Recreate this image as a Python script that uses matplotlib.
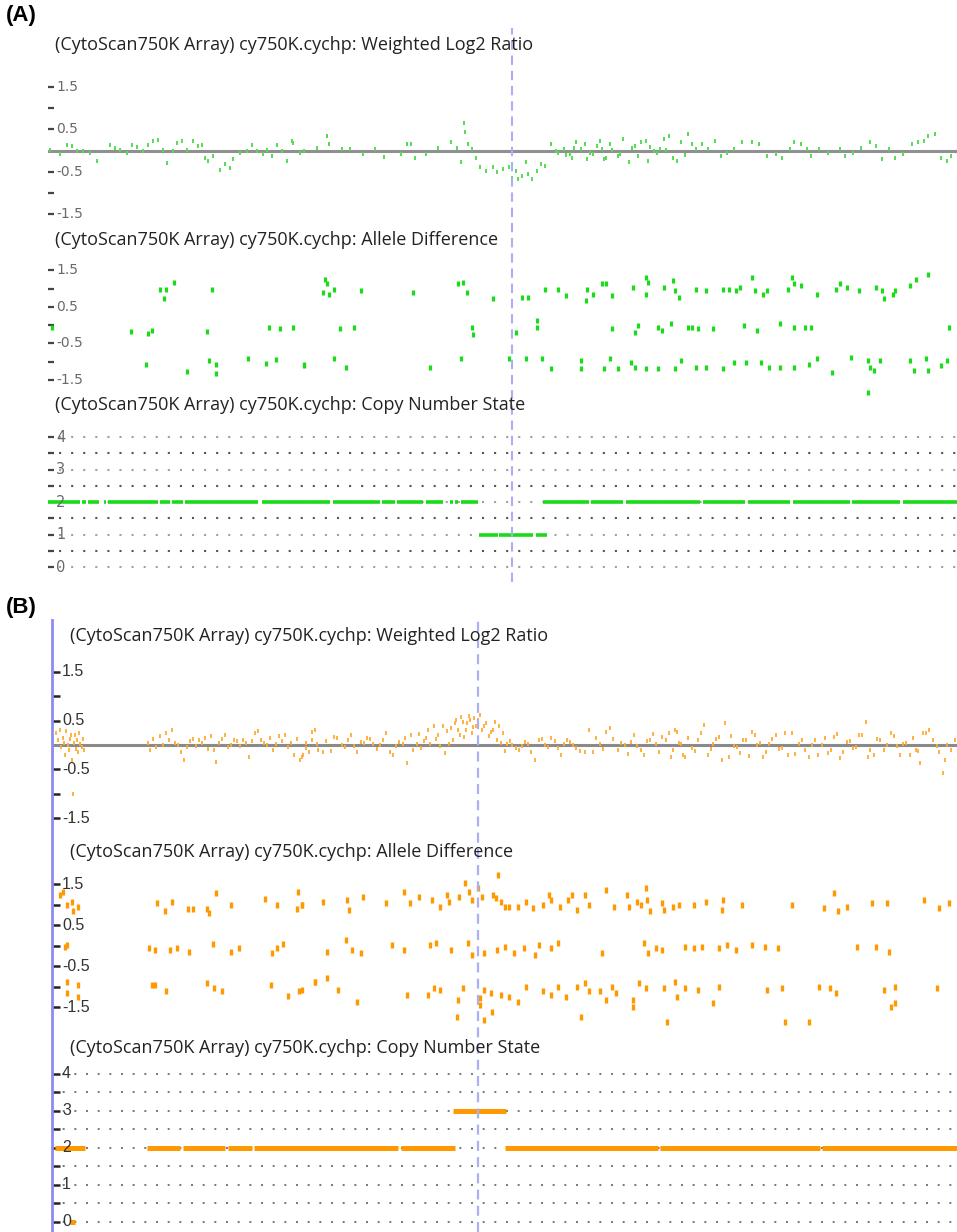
import matplotlib
matplotlib.use("Agg")
import matplotlib.pyplot as plt
from matplotlib import font_manager

# ---------------- DATA ----------------
title_prefix = "(CytoScan750K Array) cy750K.cychp: "
track_names = ["Weighted Log2 Ratio", "Allele Difference", "Copy Number State"]

log2_ticks = [1.5, 1.0, 0.5, -0.5, -1.0, -1.5]
log2_labels = ["1.5", "", "0.5", "-0.5", "", "-1.5"]
allele_ticks = [1.5, 1.0, 0.5, 0.0, -0.5, -1.0, -1.5]
allele_labels = ["1.5", "", "0.5", "", "-0.5", "", "-1.5"]
cn_ticks = [4, 3.5, 3, 2.5, 2, 1.5, 1, 0.5, 0]
cn_labels = ["4", "", "3", "", "2", "", "1", "", "0"]

# breakpoint positions (genomic position, arbitrary units)
breakpoint_a = 512
breakpoint_b = 478

# Panel A: weighted log2 ratio
a_log2_x = [50, 60, 67, 72, 77, 83, 90, 97, 110, 115, 120, 127, 132, 137, 143, 148, 153, 158, 163, 167,
            173, 177, 182, 187, 193, 198, 202, 205, 208, 213, 220, 225, 230, 233, 240, 247, 252, 257, 263, 267,
            272, 277, 282, 287, 292, 293, 300,
            304, 317, 327, 329, 342, 350, 363, 375, 384, 401, 407, 411, 415, 426, 438, 451, 457, 461, 464, 465,
            468, 472, 476, 480, 486, 493, 497, 503, 509, 512, 516, 518, 522, 526, 528, 532, 537, 541, 545,
            551, 556, 558, 564, 566, 570, 572, 574, 576, 581, 585, 587, 590, 593, 597, 600, 602, 604, 606, 610,
            612, 618, 620, 623, 629, 632, 635, 638, 641, 646, 648, 650, 654, 657, 660, 664, 666, 669, 673, 677,
            681, 685, 688, 692, 696, 702, 708, 715, 721, 727, 734, 742, 752, 759, 767, 776, 782, 790, 794, 801,
            807, 811, 819, 828, 840, 845, 853, 861, 870, 876, 882, 889, 895, 903, 912, 918, 924, 928, 935, 941,
            947, 951]
a_log2_y = [0.02, -0.09, 0.14, 0.10, 0.0, -0.02, -0.05, -0.25, 0.14, 0.06, 0.02, -0.05, 0.14, 0.08, -0.02, 0.14, 0.22, 0.26, 0.02, -0.29,
            -0.02, 0.18, 0.22, 0.02, 0.22, 0.10, 0.14, -0.17, -0.25, -0.13, -0.45, -0.33, -0.41, -0.21, -0.05, -0.02, 0.14, -0.02, -0.09, 0.02,
            -0.13, 0.14, -0.02, -0.25, 0.22, 0.18, -0.05,
            0.0, 0.07, 0.35, 0.15, 0.03, 0.03, -0.09, 0.03, -0.15, -0.09, 0.15, 0.15, -0.17, -0.09, 0.07, 0.19, 0.07, -0.28, 0.66, 0.43,
            0.15, 0.03, -0.17, -0.40, -0.48, -0.40, -0.52, -0.44, -0.40, -0.64, -0.48, -0.68, -0.60, -0.28, -0.56, -0.68, -0.48, -0.32, -0.36,
            0.15, 0.0, -0.05, 0.03, -0.10, -0.09, -0.17, 0.05, 0.19, 0.03, 0.15, -0.20, -0.06, -0.09, 0.10, 0.23, 0.03, -0.20, -0.17, 0.15,
            0.02, -0.13, -0.08, 0.27, -0.28, 0.05, 0.11, -0.12, 0.19, 0.23, -0.24, 0.08, 0.0, -0.05, 0.03, 0.27, 0.02, 0.35, -0.17, -0.24,
            0.19, -0.10, 0.39, 0.15, 0.03, 0.15, 0.03, 0.23, -0.13, -0.05, 0.03, 0.19, 0.19, 0.15, -0.13, -0.09, -0.17, 0.03, 0.19, 0.15,
            0.03, -0.13, 0.03, -0.05, 0.03, -0.13, -0.05, 0.07, 0.19, 0.11, -0.20, 0.03, -0.17, -0.09, 0.15, 0.19, 0.23, 0.35, 0.39, -0.17,
            -0.24, -0.13]

# Panel A: allele difference
a_allele_x = [52, 131, 148, 152, 160, 166, 164, 174, 212, 207, 146, 187, 209, 216, 216, 248, 266, 276, 304, 269,
              280, 293,
              325, 327, 323, 329, 334, 361, 413, 458, 463, 467, 493, 522, 528, 545, 558, 566, 587, 586,
              593, 602, 606, 612, 633, 646, 648, 646, 664, 673, 675, 679, 696, 706, 723, 729, 736, 740, 752, 755,
              763, 767, 788, 792, 794, 801, 817, 836, 840, 847, 859, 876, 882, 884, 893, 895, 910, 916, 928,
              340, 354, 472, 473, 516, 537, 537, 612, 635, 638, 658, 662, 671, 688, 692, 698, 713, 744, 757, 780,
              794, 805, 811, 949,
              304, 334, 346, 430, 461, 509, 526, 542, 551, 581, 581, 604, 610, 618, 631, 635, 646, 658, 675, 681,
              696, 706, 723, 734, 746, 761, 769, 780, 794, 809, 817, 832, 851, 868, 870, 874, 880, 868, 910, 914,
              926, 928, 941, 947]
a_allele_y = [-0.05, -0.16, -0.21, -0.14, 1.0, 1.0, 0.73, 1.18, 1.0, -0.16, -1.06, -1.25, -0.95, -1.06, -1.30, -0.91, -1.03, -0.93, -1.06, -0.05,
              -0.09, -0.05,
              1.27, 1.14, 0.91, 0.86, 1.0, 0.95, 0.91, 1.14, 1.18, 0.91, 0.73, 0.77, 0.77, 1.0, 1.0, 0.82, 1.0, 0.68,
              0.86, 1.14, 1.14, 0.82, 1.04, 1.32, 1.18, 0.86, 1.04, 1.23, 0.95, 0.77, 1.0, 0.95, 1.0, 1.0, 0.95, 1.04, 1.32, 0.95,
              0.86, 0.95, 1.0, 1.32, 1.14, 1.09, 0.86, 1.0, 1.14, 1.04, 0.95, 1.04, 0.95, 0.73, 0.86, 0.95, 1.09, 1.27, 1.41,
              -0.09, -0.05, -0.05, -0.23, -0.18, 0.14, -0.05, -0.09, -0.18, 0.0, -0.05, -0.14, 0.05, -0.05, -0.05, -0.09, -0.09, 0.0, -0.14, 0.05,
              -0.05, -0.05, -0.05, -0.05,
              -1.09, -0.91, -1.14, -1.14, -0.91, -0.91, -0.91, -0.91, -1.18, -0.95, -1.18, -1.18, -0.91, -1.18, -1.0, -1.14, -1.18, -1.18, -1.18, -0.95,
              -1.14, -1.14, -1.18, -1.0, -1.0, -1.0, -1.14, -1.14, -1.14, -1.05, -0.91, -1.27, -0.86, -0.95, -1.14, -1.23, -0.95, -1.82, -0.95, -1.23,
              -0.91, -1.23, -1.09, -0.95]

# Panel A: copy number segments
a_seg_start = [48, 82, 88, 104, 108, 160, 172, 185, 262, 333, 382, 397, 426, 450, 455, 461,
               479, 499, 536,
               543, 591, 626, 703, 748, 793, 852, 903]
a_seg_end = [80, 86, 99, 106, 158, 170, 183, 258, 330, 380, 395, 423, 443, 453, 458, 478,
             498, 533, 547,
             589, 623, 700, 745, 790, 850, 900, 957]
a_seg_state = [2, 2, 2, 2, 2, 2, 2, 2, 2, 2, 2, 2, 2, 2, 2, 2,
               1, 1, 1,
               2, 2, 2, 2, 2, 2, 2, 2]

# Panel B: weighted log2 ratio
b_log2_x = [56, 58, 60, 61, 63, 64, 65, 66, 68, 69, 70, 71, 72, 73, 74, 75, 76, 77, 78, 79,
            80, 82, 83, 84, 72,
            148, 150, 153, 156, 160, 163, 166, 169, 172, 175, 178, 181, 184, 187, 190, 193, 196, 199, 202, 205,
            208, 211, 214, 216, 219, 222, 225, 228, 231, 234, 237, 240, 243, 246, 249, 252, 255, 258, 261, 264,
            267, 270, 273, 276, 279, 282, 285, 288, 291, 294, 297, 300, 303, 306, 309, 312, 315, 318,
            302, 306, 312, 317, 323, 334, 342, 348, 354, 361, 367, 373, 380, 386, 390, 396, 403, 407, 411, 417,
            421, 426, 430, 434, 438, 440, 445, 449, 453, 456, 458, 461, 464, 467, 470, 472, 474, 476, 480, 482,
            486, 491, 495, 499, 503, 507, 512, 516, 522, 528, 535, 539, 545, 551, 558, 564, 570, 576, 585, 589,
            593, 600, 606, 610, 618, 625, 631, 637, 644, 650, 656, 662, 669, 673, 677, 681, 685, 692, 698, 704,
            708, 713, 719, 725, 729, 734, 740, 746, 752, 757, 763, 769, 776, 782, 788, 792, 799, 805, 809, 815,
            822, 828, 834, 840, 847, 853, 859, 866, 870, 874, 880, 887, 891, 897, 903, 910, 916, 920, 926, 933,
            937, 943, 947, 951,
            326, 331, 337, 345, 351, 357, 364, 370, 377, 383, 393, 399, 405, 413, 419, 424, 428, 436, 443, 447,
            451, 455, 460, 463, 466, 469, 473, 478, 484, 489, 493, 497, 501, 505, 510, 519, 525, 531, 542, 548,
            555, 561, 567, 573, 580, 596, 603, 613, 621, 628, 634, 641, 647, 653, 659, 666, 671, 675, 679, 683,
            688, 695, 701, 711, 716, 722, 731, 737, 743, 749, 755, 760, 766, 772, 779, 785, 795, 802, 812, 818,
            825, 831, 837, 843, 850, 856, 862, 868, 877, 884, 894, 900, 906, 913, 918, 923, 929, 939, 945, 955]
b_log2_y = [0.25, 0.10, 0.30, -0.05, 0.15, 0.05, -0.20, 0.28, 0.0, -0.10, 0.12, 0.20, -0.30, -1.0, 0.05, 0.20, -0.08, 0.10, -0.15, 0.25,
            0.02, -0.05, 0.12, -0.10, -1.52,
            0.05, -0.10, 0.12, -0.05, 0.18, 0.0, 0.25, 0.10, 0.30, 0.05, 0.0, -0.15, -0.30, -0.05, 0.08, 0.12, -0.02, 0.10, 0.05, 0.15,
            -0.08, 0.18, -0.10, -0.35, 0.05, 0.12, 0.20, -0.05, 0.0, 0.10, 0.08, -0.02, 0.10, 0.05, -0.25, 0.08, 0.25, 0.28, 0.10, 0.05,
            0.0, 0.15, -0.10, 0.02, 0.18, 0.08, 0.20, -0.05, 0.05, -0.20, 0.12, -0.30, -0.20, 0.05, -0.15, 0.10, 0.30, -0.10,
            -0.24, -0.07, 0.27, 0.03, -0.14, 0.17, 0.0, 0.10, -0.03, 0.07, 0.14, 0.03, 0.0, 0.24, -0.14, -0.03, 0.03, -0.38, 0.21, 0.03,
            -0.07, 0.14, 0.03, 0.38, 0.21, -0.03, -0.17, 0.03, 0.10, 0.51, 0.31, 0.58, 0.17, 0.45, 0.51, 0.24, 0.55, 0.38, 0.62, 0.31,
            0.45, 0.27, 0.48, 0.38, 0.24, 0.03, 0.0, -0.07, -0.03, 0.03, -0.31, 0.10, 0.0, 0.14, -0.07, 0.03, 0.07, -0.07, -0.14, 0.31,
            -0.14, 0.03, 0.27, 0.34, -0.10, 0.0, 0.07, -0.03, -0.21, 0.10, 0.03, 0.17, 0.24, -0.10, 0.27, 0.03, -0.24, -0.07, 0.10, 0.41,
            -0.21, 0.03, 0.17, 0.45, -0.24, -0.03, -0.17, 0.10, 0.27, 0.0, -0.24, 0.03, 0.21, -0.07, -0.21, 0.24, 0.03, -0.10, -0.24, 0.10,
            0.0, -0.17, 0.17, -0.27, 0.07, -0.07, 0.21, 0.48, -0.10, -0.21, 0.10, 0.0, 0.24, -0.03, 0.03, -0.21, -0.10, -0.38, 0.24, 0.10,
            -0.03, -0.58, 0.0, -0.10,
            0.08, -0.12, 0.15, -0.05, 0.20, -0.15, 0.05, 0.12, -0.08, 0.10, -0.20, 0.06, 0.14, -0.10, 0.22, 0.08, 0.30, 0.12, 0.40, 0.28,
            0.35, 0.45, 0.20, 0.48, 0.30, 0.60, 0.36, 0.52, 0.40, 0.18, 0.30, 0.10, 0.05, -0.12, 0.08, -0.10, 0.06, -0.15, 0.12, -0.05,
            0.08, -0.20, 0.10, 0.0, -0.12, 0.15, -0.08, 0.12, 0.05, -0.18, 0.20, -0.10, 0.08, 0.22, -0.15, 0.10, -0.25, 0.30, 0.05, -0.20,
            0.15, -0.12, 0.25, -0.08, 0.12, -0.30, 0.18, -0.05, 0.10, -0.22, 0.20, 0.05, -0.15, 0.12, -0.08, 0.25, -0.18, 0.10, 0.0, -0.20,
            0.15, -0.10, 0.22, -0.15, 0.08, -0.05, 0.20, -0.25, 0.12, -0.10, 0.18, -0.20, 0.05, 0.15, -0.12, 0.25, 0.30, -0.15, -0.30, 0.10]

# Panel B: allele difference
b_allele_x = [60, 63, 67, 72, 73, 78, 157, 165, 172, 188, 193, 207, 209, 216, 231, 265, 277, 298, 297, 302,
              302, 323, 347, 349, 363, 386, 404, 410, 419, 432, 440, 447, 449, 459, 465, 469, 472, 478, 482, 493,
              496, 498, 501, 505, 509, 518, 526, 533, 543, 549, 551, 560, 568, 572, 577, 585, 589, 606, 614, 627,
              629, 637, 641, 646, 647, 650, 662, 664, 673, 679, 694, 706, 723, 722, 742, 792, 824, 834, 838, 847,
              872, 887, 924, 939, 949,
              65, 67, 149, 155, 170, 177, 189, 213, 231, 239, 272, 277, 283,
              327, 346, 352, 361, 392, 404, 430, 436, 451, 468, 472, 484, 497, 505, 514, 524, 535, 539, 551, 558,
              602, 644, 648, 656, 662, 685, 694, 702, 719, 727, 736, 752, 765, 778, 857, 876, 889,
              67, 78, 67, 78, 152, 155, 166, 207, 214, 222, 271, 288, 299, 315,
              302, 315, 327, 338, 357, 407, 428, 434, 440, 458, 463, 480, 484, 491, 501, 509, 518, 526, 543, 551,
              558, 566, 577, 585, 589, 600, 606, 612, 616, 633, 639, 646, 664, 675, 677, 685, 698, 719, 713, 767,
              782, 819, 830, 836, 884, 895, 891, 937,
              457, 480, 484, 492, 581, 633, 667, 785, 809, 895]
b_allele_y = [1.24, 1.32, 1.0, 1.08, 0.84, 0.96, 1.04, 0.84, 1.08, 0.90, 0.90, 0.90, 0.81, 1.29, 1.0, 1.14, 1.0, 1.32, 0.90, 1.0,
              1.0, 1.08, 1.12, 0.88, 1.20, 1.04, 1.32, 1.04, 1.20, 1.12, 0.96, 1.24, 1.08, 1.20, 1.53, 1.32, 1.12, 1.41, 1.20, 1.24,
              1.16, 1.73, 1.08, 0.96, 0.96, 0.96, 1.08, 0.92, 1.0, 1.24, 1.12, 0.96, 1.12, 1.24, 0.88, 1.24, 1.0, 1.37, 0.96, 1.24,
              0.96, 1.08, 1.0, 1.41, 1.12, 0.84, 1.04, 0.88, 0.96, 1.0, 1.0, 1.08, 1.12, 0.88, 1.0, 1.0, 0.92, 1.29, 0.84, 0.96,
              1.04, 1.04, 1.12, 0.92, 1.04,
              -0.02, 0.02, -0.06, -0.11, -0.10, -0.06, -0.14, 0.05, -0.14, -0.06, -0.18, -0.06, 0.05,
              -0.14, 0.15, -0.10, -0.18, 0.02, -0.10, 0.02, 0.07, -0.10, 0.07, -0.22, -0.18, -0.10, -0.02, -0.18, -0.06, -0.22, 0.02, -0.06, 0.07,
              -0.18, 0.07, -0.18, -0.06, -0.10, -0.02, -0.06, -0.02, -0.06, 0.02, -0.10, 0.02, -0.02, -0.06, -0.02, -0.02, -0.14,
              -0.87, -0.95, -1.15, -1.24, -0.95, -0.95, -1.09, -0.91, -1.03, -1.09, -0.95, -1.22, -1.09, -0.87,
              -1.07, -0.87, -0.79, -1.07, -1.36, -1.20, -1.20, -1.03, -1.07, -1.32, -1.03, -1.28, -1.07, -1.15, -1.20, -1.24, -1.36, -0.99, -1.11, -1.20,
              -0.99, -1.24, -0.99, -0.91, -1.11, -1.11, -1.32, -0.99, -1.15, -1.32, -0.91, -1.03, -1.03, -0.87, -1.24, -1.03, -1.07, -0.99, -1.40, -1.07,
              -1.03, -0.99, -1.03, -1.15, -1.07, -0.99, -1.48, -1.03,
              -1.72, -1.44, -1.80, -1.60, -1.72, -1.48, -1.85, -1.85, -1.85, -1.40]

# Panel B: copy number segments
b_seg_start = [55, 147, 183, 228, 254, 401, 453, 505, 660, 822, 70]
b_seg_end = [85, 180, 225, 252, 398, 455, 506, 658, 820, 957, 75]
b_seg_state = [2, 2, 2, 2, 2, 2, 3, 2, 2, 2, 0]

# ---------------- FIGURE ----------------
W, H = 957, 1232
fig = plt.figure(figsize=(W / 100, H / 100), dpi=100)
fig.patch.set_facecolor("white")

avail = {f.name for f in font_manager.fontManager.ttflist}
title_font = "Open Sans" if "Open Sans" in avail else "DejaVu Sans"


def ax_px(l, t, r, b):
    return fig.add_axes([l / W, 1 - b / H, (r - l) / W, (b - t) / H])


def base(ax, xlim, ylim, ticks, labels, tcol, lcol, lsize, tlen, twid, lab_off_px, lfont):
    ax.set_xlim(*xlim)
    ax.set_ylim(*ylim)
    for s in ax.spines.values():
        s.set_visible(False)
    ax.patch.set_alpha(0)
    ax.set_xticks([])
    ax.set_yticks(ticks)
    ax.set_yticklabels([])
    ax.tick_params(axis="y", direction="in", length=tlen, width=twid, color=tcol)
    wpx = ax.get_position().width * W
    for v, lab in zip(ticks, labels):
        if lab:
            ax.text(lab_off_px / wpx, v, lab, transform=ax.get_yaxis_transform(),
                    ha="left", va="center", fontsize=lsize, color=lcol, family=lfont, zorder=5)


def title(x, y, name):
    fig.text(x / W, 1 - y / H, title_prefix + name, fontsize=13, family=title_font,
             color="#222222", ha="left", va="center")


# ---------------- PANEL A ----------------
green_pt = "#55dd55"
green = "#18dc18"
fig.text(6 / W, 1 - 16 / H, "(A)", fontsize=16, fontweight="bold", family="Liberation Sans",
         ha="left", va="center")
xa = (48, 957)
title(55, 45, track_names[0])
ax = ax_px(48, 74.4, 957, 226.6)
base(ax, xa, (-1.8, 1.8), log2_ticks, log2_labels, "#444444", "#6a6a6a", 10, 4, 1.6, 8, "DejaVu Sans")
ax.axhline(0, color="#909090", lw=2.2, zorder=1)
ax.plot(a_log2_x, a_log2_y, ls="none", marker="|", ms=2.6, mew=1.4, color=green_pt, zorder=2)

title(55, 240, track_names[1])
ax = ax_px(48, 259.3, 957, 394.7)
base(ax, xa, (-1.9, 1.8), allele_ticks, allele_labels, "#444444", "#6a6a6a", 10, 4, 1.6, 8, "DejaVu Sans")
ax.plot(a_allele_x, a_allele_y, ls="none", marker="|", ms=3.6, mew=2.3, color=green, zorder=2)

title(55, 405, track_names[2])
ax = ax_px(48, 427.25, 957, 576.75)
base(ax, xa, (-0.3, 4.3), cn_ticks, cn_labels, "#444444", "#6a6a6a", 10.5, 4, 1.6, 8, "DejaVu Sans")
for lev in cn_ticks:
    ax.axhline(lev, color="#a0a0a0" if float(lev).is_integer() else "#555555", lw=1.5,
               linestyle=(0.5, (1, 4.8)), zorder=1)
ax.hlines(a_seg_state, a_seg_start, a_seg_end, colors=green, lw=2.6, zorder=3)

ov = ax_px(48, 28, 957, 582)
ov.set_xlim(*xa)
ov.set_ylim(0, 1)
ov.axis("off")
ov.axvline(breakpoint_a, color="#aab0f4", lw=1.5, linestyle=(0, (4.5, 2.8)))

# ---------------- PANEL B ----------------
orange_pt = "#ffab33"
orange = "#ff9900"
fig.text(6 / W, 1 - 607 / H, "(B)", fontsize=16, fontweight="bold", family="Liberation Sans",
         ha="left", va="center")
xb = (52, 957)
title(70, 636, track_names[0])
ax = ax_px(52, 657.3, 957, 827.8)
base(ax, xb, (-1.7, 1.8), log2_ticks, log2_labels, "#222222", "#333333", 11.5, 6, 1.8, 10, "Liberation Sans")
ax.axhline(0, color="#8a8a8a", lw=2.2, zorder=1)
ax.plot(b_log2_x, b_log2_y, ls="none", marker="|", ms=3.0, mew=1.3, color=orange_pt, zorder=2)

title(70, 852, track_names[1])
ax = ax_px(52, 868, 957, 1028)
base(ax, xb, (-2.0, 1.9), allele_ticks, allele_labels, "#222222", "#333333", 11.5, 6, 1.8, 10, "Liberation Sans")
ax.plot(b_allele_x, b_allele_y, ls="none", marker="|", ms=4.0, mew=2.4, color=orange, zorder=2)

title(70, 1048, track_names[2])
ax = ax_px(52, 1062.9, 957, 1231)
base(ax, xb, (-0.25, 4.3), cn_ticks, cn_labels, "#222222", "#333333", 11.5, 6, 1.8, 10, "Liberation Sans")
for lev in cn_ticks:
    ax.axhline(lev, color="#777777", lw=1.4, linestyle=(0.5, (1, 5.0)), zorder=1)
ax.hlines(b_seg_state, b_seg_start, b_seg_end, colors=orange, lw=3.6, zorder=3)

ov = ax_px(52, 620, 957, 1232)
ov.set_xlim(*xb)
ov.set_ylim(0, 1)
for s in ["top", "right", "bottom"]:
    ov.spines[s].set_visible(False)
ov.spines["left"].set_color("#8c8cf2")
ov.spines["left"].set_linewidth(2.0)
ov.set_xticks([])
ov.set_yticks([])
ov.patch.set_alpha(0)
ov.axvline(breakpoint_b, color="#aab0f4", lw=1.6, linestyle=(0, (4.5, 2.8)))

fig.savefig("out.png", dpi=100)
